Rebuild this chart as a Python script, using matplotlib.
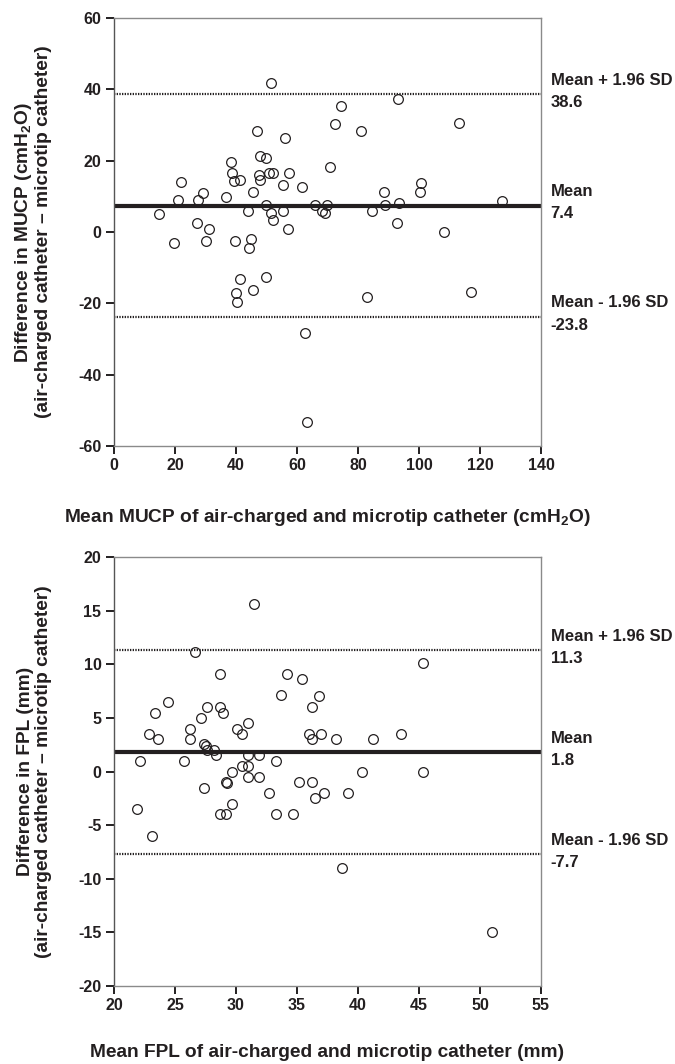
import numpy as np
import matplotlib.pyplot as plt

plt.rcParams['font.family'] = ['Liberation Sans', 'DejaVu Sans']
plt.rcParams['font.weight'] = 'bold'
plt.rcParams['mathtext.fontset'] = 'custom'
plt.rcParams['mathtext.rm'] = 'Liberation Sans:bold'
plt.rcParams['mathtext.it'] = 'Liberation Sans:bold'
plt.rcParams['mathtext.bf'] = 'Liberation Sans:bold'

TXT = '#231f20'

# MUCP (cmH2O): mean of both catheters vs difference (air-charged - microtip)
mucp_mean = [51.6, 46.9, 56.0, 38.3, 48.0, 49.8, 38.8, 47.5, 50.8, 52.2, 57.3,
             39.4, 41.3, 47.9, 22.0, 55.4, 61.6, 29.1, 45.5, 21.1, 27.5, 36.7,
             14.9, 49.9, 44.0, 51.4, 55.4, 52.2, 27.3, 31.0, 56.9, 19.8, 30.3,
             39.6, 44.9, 44.4, 70.7, 65.8, 69.8, 68.3, 69.3, 93.2, 74.5, 72.5,
             81.0, 113.0, 100.7, 100.4, 88.4, 84.5, 88.7, 93.3, 127.1, 92.7,
             108.3, 41.4, 49.9, 40.0, 40.2, 45.5, 62.5, 63.2, 83.1, 117.0]
mucp_diff = [41.9, 28.3, 26.3, 19.7, 21.2, 20.8, 16.6, 16.1, 16.6, 16.6, 16.6,
             14.2, 14.7, 14.6, 14.1, 13.1, 12.6, 11.0, 11.2, 9.1, 9.1, 9.7,
             5.1, 7.7, 6.0, 5.4, 6.0, 3.5, 2.5, 0.9, 0.9, -3.0, -2.5,
             -2.5, -2.0, -4.5, 18.2, 7.7, 7.7, 6.0, 5.4, 37.3, 35.3, 30.2,
             28.3, 30.7, 13.6, 11.1, 11.1, 6.0, 7.6, 8.1, 8.6, 2.5,
             0.0, -13.1, -12.6, -17.2, -19.7, -16.2, -28.3, -53.4, -18.2, -16.7]
mucp_bias = 7.4
mucp_upper = 38.6
mucp_lower = -23.8

# FPL (mm)
fpl_mean = [31.5, 26.6, 28.7, 34.2, 35.4, 24.4, 23.4, 27.65, 28.7, 28.9, 33.7,
            36.8, 36.25, 27.1, 22.9, 23.6, 26.2, 26.2, 30.1, 30.5, 31.0, 27.4,
            27.5, 36.0, 36.25, 37.0, 45.3, 38.2, 41.2, 43.5, 27.65, 28.2, 28.4,
            22.1, 25.7, 31.0, 31.9, 33.25, 30.5, 31.0, 29.7, 31.0, 31.9, 29.2,
            29.25, 35.2, 36.2, 27.4, 32.7, 37.2, 36.5, 29.7, 21.9, 28.7, 29.2,
            33.25, 34.7, 23.1, 40.3, 45.3, 39.2, 38.7, 51.0]
fpl_diff = [15.6, 11.1, 9.1, 9.1, 8.6, 6.5, 5.5, 6.0, 6.0, 5.5, 7.1,
            7.0, 6.0, 5.0, 3.5, 3.0, 4.0, 3.0, 4.0, 3.5, 4.5, 2.55,
            2.4, 3.5, 3.0, 3.5, 10.1, 3.0, 3.0, 3.5, 2.0, 2.0, 1.5,
            1.0, 1.0, 1.5, 1.5, 1.0, 0.5, 0.5, 0.0, -0.5, -0.5, -1.0,
            -1.05, -1.0, -1.0, -1.5, -2.0, -2.0, -2.5, -3.0, -3.5, -4.0, -4.0,
            -4.0, -4.0, -6.0, 0.0, 0.0, -2.0, -9.0, -15.0]
fpl_bias = 1.8
fpl_upper = 11.3
fpl_lower = -7.7

fig = plt.figure(figsize=(6.75, 10.64), dpi=100)
W, H = 675, 1064
ax1 = fig.add_axes([114 / W, 1 - 446 / H, 427 / W, 428 / H])
ax2 = fig.add_axes([114 / W, 1 - 986 / H, 427 / W, 429 / H])


def bland_altman(ax, x, d, bias, up, lo, xlim, xticks, ylim, yticks, xlab, ylab, xlab_y):
    ax.plot(x, d, 'o', ms=7, mfc='none', mec='#231f20', mew=0.9, zorder=3)
    ax.axhline(bias, color='#231f20', lw=3, zorder=2)
    ax.axhline(up, color='#231f20', lw=1.6, ls=(0, (0.6, 0.6)), zorder=2)
    ax.axhline(lo, color='#231f20', lw=1.6, ls=(0, (0.6, 0.6)), zorder=2)
    ax.set_xlim(xlim)
    ax.set_ylim(ylim)
    ax.set_xticks(xticks)
    ax.set_yticks(yticks)
    ax.set_yticklabels([str(v).replace('\u2212', '-') for v in yticks])
    ax.tick_params(direction='out', length=6, width=1.4, color='#231f20',
                   labelsize=11.5, labelcolor=TXT, pad=3)
    for s in ax.spines.values():
        s.set_color('#8a8a8a')
        s.set_linewidth(1.0)
    ax.spines['left'].set_color('#555555')
    ax.set_xlabel(xlab, fontsize=13.8, color=TXT, fontweight='bold')
    ax.xaxis.label.set_verticalalignment('center')
    ax.xaxis.set_label_coords(0.5, xlab_y)
    ax.set_ylabel(ylab, fontsize=13.8, color=TXT, fontweight='bold',
                  linespacing=1.1)
    ax.yaxis.set_label_coords(-0.145, 0.5)
    for val, name in [(up, 'Mean + 1.96 SD'), (bias, 'Mean'), (lo, 'Mean - 1.96 SD')]:
        ax.annotate(name, xy=(1, val), xycoords=('axes fraction', 'data'),
                    xytext=(7, 10), textcoords='offset points', ha='left',
                    va='center', fontsize=12, color=TXT, fontweight='bold',
                    annotation_clip=False)
        ax.annotate('%.1f' % val, xy=(1, val), xycoords=('axes fraction', 'data'),
                    xytext=(7, -6), textcoords='offset points', ha='left',
                    va='center', fontsize=12, color=TXT, fontweight='bold',
                    annotation_clip=False)


bland_altman(ax1, mucp_mean, mucp_diff, mucp_bias, mucp_upper, mucp_lower,
             (0, 140), np.arange(0, 141, 20), (-60, 60), np.arange(-60, 61, 20),
             'Mean MUCP of air-charged and microtip catheter (cmH$_2$O)',
             'Difference in MUCP (cmH$_2$O)\n(air-charged catheter \u2013 microtip catheter)',
             -0.168)
bland_altman(ax2, fpl_mean, fpl_diff, fpl_bias, fpl_upper, fpl_lower,
             (20, 55), np.arange(20, 56, 5), (-20, 20), np.arange(-20, 21, 5),
             'Mean FPL of air-charged and microtip catheter (mm)',
             'Difference in FPL (mm)\n(air-charged catheter \u2013 microtip catheter)',
             -0.156)

fig.savefig('out.png', dpi=100)
